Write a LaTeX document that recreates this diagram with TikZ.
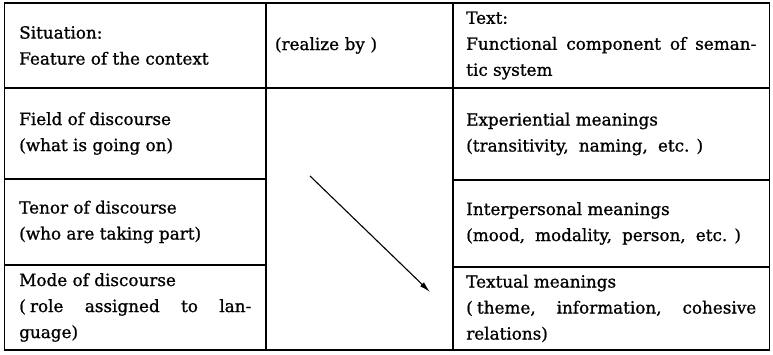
\documentclass[tikz,border=0pt]{standalone}
\usepackage{fontspec}
\setmainfont{DejaVu Serif}[UprightFeatures={FakeBold=1}]
\usetikzlibrary{positioning,arrows.meta}
\tikzstyle{cellbox} = [draw=black, line width=1.1pt, rectangle, inner sep=0pt, outer sep=0pt, font=\fontsize{16.8}{26}\selectfont]
\tikzstyle{leftcell} = [cellbox, text width=232pt, inner xsep=14.75pt, align=justify]
\tikzstyle{rightcell} = [cellbox, text width=290pt, inner xsep=13.25pt, align=justify]
\tikzstyle{midcell} = [cellbox, text width=169pt, inner xsep=9pt, align=left]
\newcommand{\fwc}{,\hspace{0.6em plus 1em}}

\begin{document}
\begin{tikzpicture}[x=1pt,y=1pt]
\useasboundingbox (0,0) rectangle (773,354);
% situation side
\node [leftcell, minimum height=85pt, anchor=north west] (situation) at (4.5,351) {Situation:\\Feature of the context};
\node [leftcell, minimum height=91pt, below=0pt of situation] (field) {Field of discourse\\(what is going on)};
\node [leftcell, minimum height=86pt, below=0pt of field] (tenor) {Tenor of discourse\\(who are taking part)};
\node [leftcell, minimum height=85pt, below=0pt of tenor] (mode) {Mode of discourse\\(\hspace{0.25em}role assigned to lan-\linebreak guage)};
% realization column
\node [midcell, minimum height=85pt, right=0pt of situation] (realize) {(realize by )};
\node [cellbox, minimum width=187pt, minimum height=262pt, below=0pt of realize] (realbody) {};
% text side
\node [rightcell, minimum height=85pt, right=0pt of realize] (text) {Text:\\Functional component of seman-\linebreak tic system};
\node [rightcell, minimum height=92pt, below=0pt of text] (experiential) {Experiential meanings\\(transitivity\fwc naming\fwc etc. )};
\node [rightcell, minimum height=87pt, below=0pt of experiential] (interpersonal) {Interpersonal meanings\\(mood\fwc modality\fwc person\fwc etc. )};
\node [rightcell, minimum height=83pt, below=0pt of interpersonal] (textual) {Textual meanings\\(\hspace{0.25em}theme\fwc information\fwc cohesive\linebreak relations)};
% arrow
\coordinate (arrowtail) at (310,178);
\coordinate (arrowtip) at (430,62);
\draw [-{Latex[length=11pt,width=5.5pt]}, line width=1.1pt] (arrowtail) -- (arrowtip);
\end{tikzpicture}
\end{document}
